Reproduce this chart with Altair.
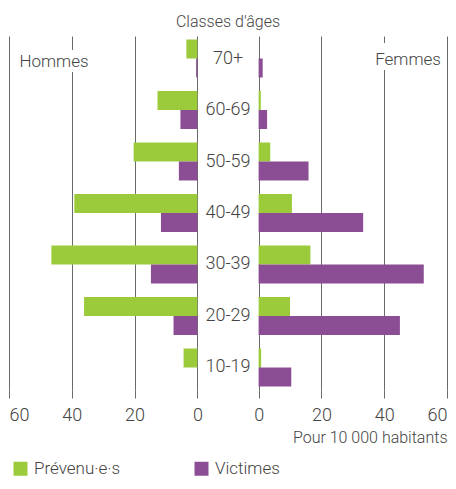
import altair as alt
import pandas as pd

ages = ["70+", "60-69", "50-59", "40-49", "30-39", "20-29", "10-19"]
series = ["Prévenu·e·s", "Victimes"]
hommes_prevenus = [3.5, 12.7, 20.3, 39.2, 46.5, 36.1, 4.4]
hommes_victimes = [0.4, 5.4, 5.9, 11.6, 14.8, 7.6, 0.0]
femmes_prevenus = [0.0, 0.7, 3.7, 10.6, 16.5, 10.0, 0.8]
femmes_victimes = [1.3, 2.7, 15.9, 33.3, 52.6, 45.0, 10.4]
tick_values = [0, 20, 40, 60]
colors = ["#9bcb3b", "#8b4e94"]

GAP = 9.75  # half of the central gap, in data units
MAXV = 60

rows = []
for i, a in enumerate(ages):
    for s, hv, fv in ((series[0], hommes_prevenus[i], femmes_prevenus[i]),
                      (series[1], hommes_victimes[i], femmes_victimes[i])):
        rows.append({"age": a, "serie": s, "side": "Hommes", "v": hv,
                     "x0": -GAP, "x1": -GAP - hv})
        rows.append({"age": a, "serie": s, "side": "Femmes", "v": fv,
                     "x0": GAP, "x1": GAP + fv})
df = pd.DataFrame(rows)
ages_df = pd.DataFrame({"age": ages, "x": [0] * len(ages)})

axis_vals = [-(GAP + t) for t in reversed(tick_values)] + [GAP + t for t in tick_values]

FONT = "Roboto, 'Liberation Sans', sans-serif"
TXT = "#444444"
GRID = "#6a6a6a"
W = 300

xscale = alt.Scale(domain=[-(GAP + MAXV), GAP + MAXV], nice=False, zero=False)
yscale = alt.Scale(domain=ages, paddingInner=0.262, paddingOuter=0.068)

bars = alt.Chart(df).mark_bar().encode(
    x=alt.X("x0:Q", scale=xscale,
            axis=alt.Axis(values=axis_vals, grid=True, gridColor=GRID, gridOpacity=1,
                          domain=False, ticks=True, tickColor=GRID, tickSize=8,
                          labelFlush=True, labelFlushOffset=0,
                          labelExpr=f"toString(round(abs(datum.value) - {GAP}))",
                          labelFontSize=18, labelColor=TXT, labelFont=FONT,
                          labelFontWeight=W, labelPadding=8,
                          title="Pour 10 000 habitants", titleAnchor="end",
                          titleFontSize=16, titleFontWeight=W, titleColor=TXT,
                          titleFont=FONT, titlePadding=5)),
    x2="x1:Q",
    y=alt.Y("age:N", scale=yscale, axis=None, sort=ages),
    yOffset=alt.YOffset("serie:N", sort=series, scale=alt.Scale(paddingInner=0, paddingOuter=0)),
    color=alt.Color("serie:N", scale=alt.Scale(domain=series, range=colors),
                    legend=alt.Legend(title=None, orient="none", legendX=3, legendY=424,
                                      direction="horizontal", symbolType="square",
                                      symbolSize=196, symbolStrokeWidth=0,
                                      labelFontSize=17, labelFont=FONT, labelColor=TXT,
                                      labelFontWeight=W,
                                      labelOffset=5, columnPadding=72)),
)

age_text = alt.Chart(ages_df).mark_text(fontSize=18, font=FONT, color=TXT, fontWeight=W).encode(
    x=alt.X("x:Q", scale=xscale),
    y=alt.Y("age:N", scale=yscale, sort=ages),
    text="age:N",
)

side_labels = pd.DataFrame({"t": ["Hommes", "Femmes"]})
mask_h = alt.Chart(side_labels.iloc[[0]]).mark_rect(color="white").encode(
    x=alt.value(8), x2=alt.value(82), y=alt.value(14), y2=alt.value(36))
mask_f = alt.Chart(side_labels.iloc[[1]]).mark_rect(color="white").encode(
    x=alt.value(364), x2=alt.value(434), y=alt.value(7), y2=alt.value(34))
text_h = alt.Chart(side_labels.iloc[[0]]).mark_text(fontSize=17, font=FONT, color=TXT, fontWeight=W).encode(
    x=alt.value(45), y=alt.value(26), text="t:N")
text_f = alt.Chart(side_labels.iloc[[1]]).mark_text(fontSize=17, font=FONT, color=TXT, fontWeight=W).encode(
    x=alt.value(399), y=alt.value(24), text="t:N")

chart = alt.layer(bars, age_text, mask_h, mask_f, text_h, text_f).properties(
    width=438, height=354,
    autosize=alt.AutoSizeParams(type="none"),
    padding={"left": 1, "top": 28, "right": 1, "bottom": 91},
    title=alt.Title("Classes d'âges", anchor="middle", fontSize=16, fontWeight=W,
                    color=TXT, font=FONT, offset=6),
).configure_view(stroke=None)

chart.save("out.html", embed_options={"renderer": "svg", "actions": False})
